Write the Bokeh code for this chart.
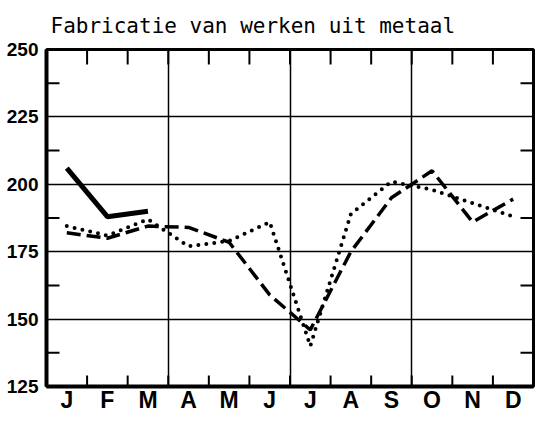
import math
from bokeh.plotting import figure
from bokeh.models import FixedTicker, LinearAxis, Range1d, Title
from bokeh.embed import file_html
from bokeh.resources import INLINE

months = ["J", "F", "M", "A", "M", "J", "J", "A", "S", "O", "N", "D"]
y_ticks = [125, 150, 175, 200, 225, 250]
solid_vals = [206, 188, 190]
dashed_vals = [182, 180, 184.5, 184, 178.5, 159, 146, 175, 195, 205, 186, 194.5]
dotted_vals = [184.5, 181, 187, 177, 179, 186, 140, 189, 201, 198, 193, 188]

xs = [i + 0.5 for i in range(len(months))]
minor_y = [t + 12.5 for t in y_ticks[:-1]]
bounds_x = list(range(1, len(months)))
x0, x1 = 0, len(months)
y0, y1 = y_ticks[0], y_ticks[-1]

p = figure(width=536, height=415, output_backend="svg", toolbar_location=None,
           x_range=Range1d(x0, x1), y_range=Range1d(y0, y1),
           min_border_left=46, min_border_right=3, min_border_top=10, min_border_bottom=4,
           x_axis_location=None, y_axis_location=None)

p.title = Title(text="Fabricatie van werken uit metaal", text_font="DejaVu Sans Mono",
                text_font_size="21px", text_font_style="normal", text_color="black",
                align="left", offset=4, standoff=23)

p.outline_line_color = "black"
p.outline_line_width = 3
p.background_fill_color = "white"
p.border_fill_color = "white"

# bottom axis with month labels
xb = LinearAxis(ticker=FixedTicker(ticks=xs))
xb.major_label_overrides = {x: m for x, m in zip(xs, months)}
xb.major_tick_in = 0
xb.major_tick_out = 0
xb.minor_tick_in = 0
xb.minor_tick_out = 0
xb.axis_line_width = 4
xb.axis_line_color = "black"
xb.major_label_text_font = "Liberation Sans"
xb.major_label_text_font_style = "bold"
xb.major_label_text_font_size = "23px"
xb.major_label_text_color = "black"
xb.major_label_standoff = 0
p.add_layout(xb, "below")

# left axis with values
yl = LinearAxis(ticker=FixedTicker(ticks=y_ticks))
yl.major_tick_in = 0
yl.major_tick_out = 0
yl.minor_tick_in = 0
yl.minor_tick_out = 0
yl.axis_line_width = 4
yl.axis_line_color = "black"
yl.major_label_text_font = "Liberation Sans"
yl.major_label_text_font_style = "bold"
yl.major_label_text_font_size = "19px"
yl.major_label_text_color = "black"
yl.major_label_standoff = 8
p.add_layout(yl, "left")

p.xgrid.ticker = FixedTicker(ticks=[3, 6, 9])
p.ygrid.ticker = FixedTicker(ticks=[150, 175, 200, 225])
for g in (p.xgrid, p.ygrid):
    g.grid_line_color = "black"
    g.grid_line_width = 1.5
    g.grid_line_alpha = 1

# inner tick marks on all four sides
tick_kw = dict(line_color="black", line_width=2, length_units="screen")
p.ray(x=[x0] * len(minor_y), y=minor_y, length=13, angle=0, **tick_kw)
p.ray(x=[x1] * len(minor_y), y=minor_y, length=13, angle=math.pi, **tick_kw)
p.ray(x=bounds_x, y=[y1] * len(bounds_x), length=15, angle=-math.pi / 2, **tick_kw)
p.ray(x=bounds_x, y=[y0] * len(bounds_x), length=11, angle=math.pi / 2, **tick_kw)

p.line(xs[:len(solid_vals)], solid_vals, line_color="black", line_width=5)
p.line(xs, dashed_vals, line_color="black", line_width=3.5, line_dash="14 6")
p.line(xs, dotted_vals, line_color="black", line_width=4, line_dash="0 8", line_cap="round")

open("out.html", "w").write(file_html(p, INLINE))
